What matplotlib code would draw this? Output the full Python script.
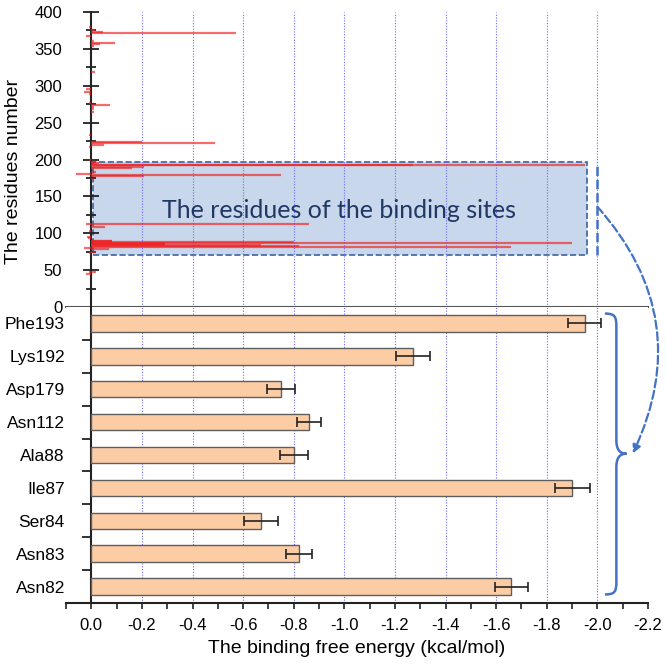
import numpy as np
import matplotlib.pyplot as plt
from matplotlib.path import Path
from matplotlib.patches import PathPatch, Rectangle
from matplotlib.ticker import MultipleLocator, FixedLocator, FuncFormatter

plt.rcParams['font.family'] = ['Liberation Sans', 'DejaVu Sans']
plt.rcParams['axes.unicode_minus'] = False

# binding-site residues, bottom to top
residues = ['Asn82', 'Asn83', 'Ser84', 'Ile87', 'Ala88', 'Asn112', 'Asp179', 'Lys192', 'Phe193']
res_num = [82, 83, 84, 87, 88, 112, 179, 192, 193]
dg = [-1.66, -0.82, -0.67, -1.90, -0.80, -0.86, -0.75, -1.27, -1.95]
dg_err = [0.066, 0.052, 0.068, 0.069, 0.055, 0.049, 0.055, 0.067, 0.065]

# remaining residues of the per-residue decomposition (top panel)
other_num = [379, 375, 373, 372, 368, 361, 358, 356, 354, 319, 295, 292, 289, 276,
             274, 271, 268, 265, 233, 224, 222, 220, 217, 200, 197, 195, 190, 188,
             183, 180, 178, 174, 113, 109, 103, 95, 93, 90, 89, 86, 85, 80, 79, 75,
             73, 48, 47, 45]
other_dg = [0.01, -0.016, -0.047, -0.57, 0.02, -0.01, -0.093, -0.033, -0.01, -0.013,
            0.019, 0.03, 0.01, 0.01, -0.074, -0.01, -0.01, -0.01, 0.01, -0.2, -0.49,
            -0.05, 0.01, 0.01, -0.02, -0.03, -0.21, -0.16, -0.02, 0.062, -0.21, -0.01,
            0.02, -0.054, 0.01, 0.016, 0.015, -0.083, -0.08, -0.29, -0.29, 0.03, -0.07,
            -0.02, 0.01, 0.01, -0.02, 0.02]

grid_x = [-0.2, -0.4, -0.6, -0.8, -1.0, -1.2, -1.4, -1.6, -1.8, -2.0]
blue = '#4472c4'
xmin, xmax = 0.1, -2.2

fig = plt.figure(figsize=(6.66, 6.66), dpi=100)
ax1 = fig.add_axes([66/666, 1-307/666, 582/666, 295/666])
ax2 = fig.add_axes([66/666, 1-603/666, 582/666, 296/666])

# ---- top panel: energy per residue
all_num = res_num + other_num
all_dg = dg + other_dg
ax1.hlines(all_num, 0, all_dg, color='#f01e1e', alpha=0.65, lw=1.6, zorder=3)
ax1.set_xlim(xmin, xmax)
ax1.set_ylim(0, 400)
ax1.vlines(grid_x, 0, 400, colors='#6a6aff', linestyles=(0, (1, 1.5)), lw=0.8, zorder=1)

ax1.add_patch(Rectangle((-0.008, 70), -1.952, 127, facecolor='#c8d7eb',
                        edgecolor='#3a62a0', ls='--', lw=1.2, zorder=0.5))
ax1.text(-0.98, 131, 'The residues of the binding sites', fontsize=18,
         family=['Lato', 'DejaVu Sans'], color='#1f3864', ha='center', va='center', zorder=4)
ax1.plot([-2.0, -2.0], [70, 197], color=blue, ls='--', lw=1.8, zorder=4)

ax1.yaxis.set_major_locator(MultipleLocator(50))
ax1.yaxis.set_minor_locator(MultipleLocator(25))
ax1.tick_params(axis='y', which='major', direction='inout', length=12, width=1.3,
                labelsize=12, pad=15, color='#222')
ax1.tick_params(axis='y', which='minor', direction='inout', length=6.5, width=1.3, color='#222')
ax1.tick_params(axis='x', which='both', bottom=False, labelbottom=False)
ax1.spines['left'].set_position(('data', 0))
ax1.spines['left'].set_linewidth(1.5)
ax1.spines['left'].set_color('#222')
ax1.spines['bottom'].set_linewidth(1.5)
ax1.spines['bottom'].set_color('#555')
ax1.spines['top'].set_visible(False)
ax1.spines['right'].set_visible(False)
ax1.set_ylabel('The residues number', fontsize=14)
ax1.yaxis.set_label_coords(-0.075, 0.46)

# ---- bottom panel: binding-site residues
y = np.arange(len(residues))
ax2.barh(y, dg, height=0.5, color='#fccda5', edgecolor='#5e5e5e', lw=1, zorder=3)
ax2.errorbar(dg, y, xerr=dg_err, fmt='none', ecolor='#222', elinewidth=1.2,
             capsize=3.7, capthick=1.2, zorder=4)
ax2.set_xlim(xmin, xmax)
ax2.set_ylim(-0.5, len(residues) - 0.5)
ax2.vlines(grid_x, -0.5, len(residues) - 0.5, colors='#6a6aff', linestyles=(0, (1, 1.5)),
           lw=0.8, zorder=1)

ax2.set_yticks(y, residues)
ax2.yaxis.set_minor_locator(FixedLocator(y[:-1] + 0.5))
ax2.tick_params(axis='y', which='major', length=0, pad=19, labelsize=12.5)
ax2.tick_params(axis='y', which='minor', direction='out', length=6.5, width=1.3, color='#222')
ax2.xaxis.set_major_locator(MultipleLocator(0.2))
ax2.xaxis.set_minor_locator(MultipleLocator(0.1))
ax2.xaxis.set_major_formatter(FuncFormatter(lambda v, p: '0.0' if abs(v) < 1e-9 else f'{v:.1f}'))
ax2.tick_params(axis='x', which='both', direction='out', length=4, width=1.2,
                labelsize=12, pad=6.5, color='#222')
ax2.spines['left'].set_position(('data', 0))
ax2.spines['left'].set_linewidth(1.5)
ax2.spines['left'].set_color('#222')
ax2.spines['bottom'].set_linewidth(1.5)
ax2.spines['bottom'].set_color('#222')
ax2.spines['top'].set_visible(False)
ax2.spines['right'].set_visible(False)
ax2.set_xlabel('The binding free energy (kcal/mol)', fontsize=14, labelpad=5)

# curly brace next to the bars
verts = [(-2.03, 8.30), (-2.07, 8.30), (-2.075, 8.2), (-2.075, 7.9),
         (-2.075, 4.45),
         (-2.075, 4.15), (-2.09, 4.04), (-2.115, 4.04),
         (-2.09, 4.04), (-2.075, 3.93), (-2.075, 3.63),
         (-2.075, 0.15),
         (-2.075, -0.15), (-2.07, -0.24), (-2.03, -0.24)]
codes = [Path.MOVETO, Path.CURVE4, Path.CURVE4, Path.CURVE4, Path.LINETO,
         Path.CURVE4, Path.CURVE4, Path.CURVE4, Path.CURVE4, Path.CURVE4, Path.CURVE4,
         Path.LINETO, Path.CURVE4, Path.CURVE4, Path.CURVE4]
ax2.add_patch(PathPatch(Path(verts, codes), fill=False, edgecolor=blue, lw=1.8,
                        clip_on=False, zorder=5))

# dashed arrow from the box to the brace
ax2.annotate('', xy=(-2.14, 4.05), xycoords='data', xytext=(-2.0, 136),
             textcoords=ax1.transData, annotation_clip=False,
             arrowprops=dict(arrowstyle='-|>', linestyle='--', color=blue, lw=1.6,
                             mutation_scale=12, shrinkA=0, shrinkB=0,
                             connectionstyle='arc3,rad=-0.33'))

fig.savefig('out.png', dpi=100)
